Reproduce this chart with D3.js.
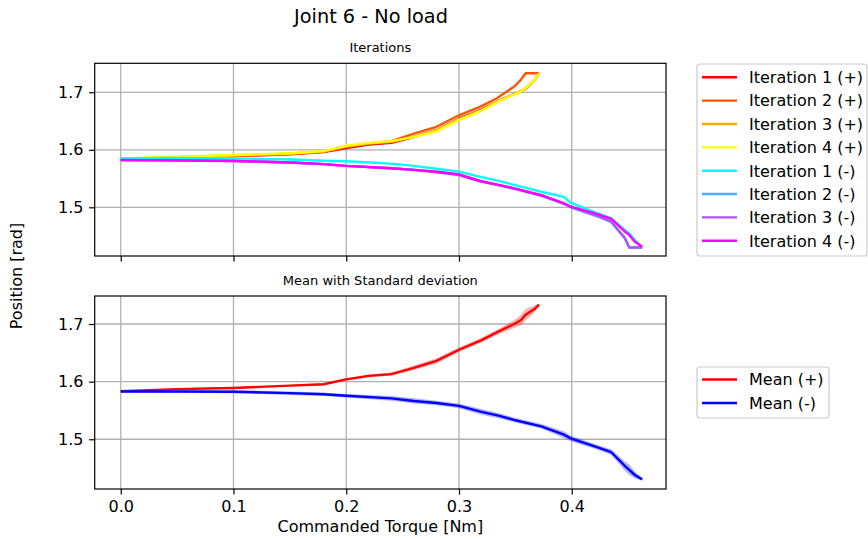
<!DOCTYPE html>
<html>
<head>
<meta charset="utf-8">
<script src="https://cdn.jsdelivr.net/npm/d3@7"></script>
<style>
  body { margin: 0; background: #fff; }
  svg { display: block; font-family: "DejaVu Sans", sans-serif; }
</style>
</head>
<body>
<script>
// torque samples (x) for the (+) and (-) directions
const torquePos = [0, 0.05, 0.1, 0.15, 0.18, 0.2, 0.22, 0.24, 0.26, 0.28, 0.3, 0.32, 0.334, 0.349, 0.355, 0.359, 0.367, 0.371];
const torqueNeg = [0, 0.05, 0.1, 0.15, 0.18, 0.2, 0.24, 0.26, 0.28, 0.3, 0.319, 0.335, 0.349, 0.373, 0.393, 0.399, 0.423, 0.435, 0.447, 0.451, 0.456, 0.4625];

// position per iteration
const iter1Pos = [1.583, 1.586, 1.589, 1.592, 1.596, 1.603, 1.609, 1.612, 1.622, 1.634, 1.654, 1.670, 1.684, 1.697, 1.701, 1.706, 1.721, 1.733];
const iter2Pos = [1.583, 1.587, 1.590, 1.593, 1.597, 1.605, 1.611, 1.615, 1.628, 1.640, 1.660, 1.676, 1.690, 1.710, 1.722, 1.733, 1.733, 1.733];
const iter3Pos = [1.584, 1.587, 1.590, 1.593, 1.597, 1.606, 1.611, 1.614, 1.623, 1.634, 1.653, 1.669, 1.684, 1.697, 1.702, 1.707, 1.721, 1.733];
const iter4Pos = [1.585, 1.588, 1.591, 1.594, 1.598, 1.607, 1.612, 1.615, 1.622, 1.632, 1.652, 1.668, 1.683, 1.6965, 1.701, 1.707, 1.721, 1.733];

const iter1Neg = [1.585, 1.586, 1.585, 1.583, 1.581, 1.580, 1.576, 1.572, 1.567, 1.562, 1.553, 1.546, 1.539, 1.527, 1.518, 1.508, 1.4895, 1.481, 1.4605, 1.455, 1.443, 1.430];
const iter2Neg = [1.582, 1.582, 1.581, 1.578, 1.575, 1.572, 1.568, 1.565, 1.562, 1.557, 1.545, 1.538, 1.532, 1.520, 1.506, 1.500, 1.484, 1.4745, 1.446, 1.430, 1.430, 1.430];
const iter3Neg = [1.582, 1.582, 1.5805, 1.578, 1.575, 1.572, 1.568, 1.565, 1.561, 1.556, 1.545, 1.539, 1.533, 1.521, 1.507, 1.501, 1.485, 1.475, 1.447, 1.430, 1.430, 1.430];
const iter4Neg = [1.5823, 1.5815, 1.5805, 1.578, 1.575, 1.572, 1.568, 1.565, 1.562, 1.557, 1.5457, 1.539, 1.533, 1.521, 1.507, 1.501, 1.488, 1.480, 1.458, 1.452, 1.440, 1.4315];

// mean and standard deviation
const meanPos = [1.5835, 1.587, 1.589, 1.593, 1.5955, 1.604, 1.610, 1.613, 1.624, 1.636, 1.6553, 1.672, 1.686, 1.700, 1.707, 1.716, 1.726, 1.7336];
const stdPos = [0.001, 0.0015, 0.0015, 0.0015, 0.0015, 0.002, 0.0025, 0.003, 0.004, 0.0045, 0.004, 0.004, 0.0045, 0.007, 0.009, 0.01, 0.006, 0.0015];
const meanNeg = [1.5828, 1.5828, 1.5825, 1.580, 1.578, 1.5755, 1.571, 1.5665, 1.563, 1.558, 1.548, 1.541, 1.5335, 1.5225, 1.508, 1.5017, 1.486, 1.4775, 1.454, 1.447, 1.438, 1.4304];
const stdNeg = [0.0015, 0.002, 0.0025, 0.003, 0.003, 0.003, 0.004, 0.0045, 0.004, 0.004, 0.005, 0.0045, 0.004, 0.004, 0.006, 0.005, 0.004, 0.005, 0.008, 0.009, 0.006, 0.002];

const xTicks = [0.0, 0.1, 0.2, 0.3, 0.4];
const yTicks = [1.5, 1.6, 1.7];

const iterSeries = [
  { name: 'Iteration 1 (+)', x: torquePos, y: iter1Pos, color: '#ff0000' },
  { name: 'Iteration 2 (+)', x: torquePos, y: iter2Pos, color: '#ff5500' },
  { name: 'Iteration 3 (+)', x: torquePos, y: iter3Pos, color: '#ffaa00' },
  { name: 'Iteration 4 (+)', x: torquePos, y: iter4Pos, color: '#ffff00' },
  { name: 'Iteration 1 (-)', x: torqueNeg, y: iter1Neg, color: '#00ffff' },
  { name: 'Iteration 2 (-)', x: torqueNeg, y: iter2Neg, color: '#55aaff' },
  { name: 'Iteration 3 (-)', x: torqueNeg, y: iter3Neg, color: '#aa55ff' },
  { name: 'Iteration 4 (-)', x: torqueNeg, y: iter4Neg, color: '#ff00ff' }
];
const meanSeries = [
  { name: 'Mean (+)', x: torquePos, y: meanPos, s: stdPos, color: '#ff0000' },
  { name: 'Mean (-)', x: torqueNeg, y: meanNeg, s: stdNeg, color: '#0000ff' }
];

const W = 868, H = 539;
const left = 94.7, right = 666;
const svg = d3.select('body').append('svg').attr('width', W).attr('height', H);

const xScale = d3.scaleLinear().domain([-0.0231, 0.4836]).range([left, right]);

function makeAxes(top, bottom, yDomain, title, showXLabels) {
  const yScale = d3.scaleLinear().domain(yDomain).range([bottom, top]);
  const g = svg.append('g');

  // grid
  g.selectAll('.gx').data(xTicks).join('line')
    .attr('x1', d => xScale(d)).attr('x2', d => xScale(d))
    .attr('y1', top).attr('y2', bottom)
    .attr('stroke', '#b0b0b0').attr('stroke-width', 1.3);
  g.selectAll('.gy').data(yTicks).join('line')
    .attr('y1', d => yScale(d)).attr('y2', d => yScale(d))
    .attr('x1', left).attr('x2', right)
    .attr('stroke', '#b0b0b0').attr('stroke-width', 1.3);

  // axes
  const xa = g.append('g').attr('transform', `translate(0,${bottom})`)
    .call(d3.axisBottom(xScale).tickValues(xTicks).tickSize(5.6).tickPadding(5.6)
      .tickFormat(showXLabels ? d3.format('.1f') : () => ''));
  const ya = g.append('g').attr('transform', `translate(${left},0)`)
    .call(d3.axisLeft(yScale).tickValues(yTicks).tickSize(5.6).tickPadding(5.6).tickFormat(d3.format('.1f')));
  [xa, ya].forEach(a => {
    a.select('.domain').remove();
    a.selectAll('line').attr('stroke', '#000').attr('stroke-width', 1.2);
    a.selectAll('text').attr('fill', '#000').style('font-size', '16px')
      .style('font-family', '"DejaVu Sans", sans-serif');
  });

  g.append('text')
    .attr('x', (left + right) / 2).attr('y', top - 11)
    .attr('text-anchor', 'middle').style('font-size', '13px')
    .text(title);

  return { g, yScale, top, bottom };
}

function frame(ax) {
  ax.g.append('rect')
    .attr('x', left).attr('y', ax.top)
    .attr('width', right - left).attr('height', ax.bottom - ax.top)
    .attr('fill', 'none').attr('stroke', '#000').attr('stroke-width', 1.2);
}

// top: iterations
const ax1 = makeAxes(63.3, 256, [1.4153, 1.7504], 'Iterations', false);
const line1 = d3.line().x(d => xScale(d[0])).y(d => ax1.yScale(d[1]));
ax1.g.append('g')
  .selectAll('path').data(iterSeries).join('path')
  .attr('d', s => line1(s.x.map((v, i) => [v, s.y[i]])))
  .attr('fill', 'none').attr('stroke', s => s.color).attr('stroke-width', 2.4)
  .attr('stroke-linejoin', 'round');
frame(ax1);

// bottom: mean with std
const ax2 = makeAxes(296, 489, [1.4137, 1.7486], 'Mean with Standard deviation', true);
const line2 = d3.line().x(d => xScale(d[0])).y(d => ax2.yScale(d[1]));
const area2 = d3.area().x(d => xScale(d[0])).y0(d => ax2.yScale(d[1] - d[2])).y1(d => ax2.yScale(d[1] + d[2]));
meanSeries.forEach(s => {
  const pts = s.x.map((v, i) => [v, s.y[i], s.s[i]]);
  ax2.g.append('path').attr('d', area2(pts)).attr('fill', s.color).attr('fill-opacity', 0.3);
  ax2.g.append('path').attr('d', line2(pts)).attr('fill', 'none')
    .attr('stroke', s.color).attr('stroke-width', 2.4).attr('stroke-linejoin', 'round');
});
frame(ax2);

// legends
function legend(items, x, y, w, h, firstY, step) {
  const g = svg.append('g');
  g.append('rect').attr('x', x).attr('y', y).attr('width', w).attr('height', h)
    .attr('rx', 3).attr('fill', '#fff').attr('fill-opacity', 0.8)
    .attr('stroke', '#cccccc').attr('stroke-width', 1.2);
  items.forEach((d, i) => {
    const yy = firstY + i * step;
    g.append('line').attr('x1', x + 5).attr('x2', x + 40).attr('y1', yy).attr('y2', yy)
      .attr('stroke', d.color).attr('stroke-width', 2.4);
    g.append('text').attr('x', x + 52).attr('y', yy + 5.8)
      .style('font-size', '16px').text(d.name);
  });
}
legend(iterSeries, 697, 64, 170, 192, 77.3, 23.35);
legend(meanSeries, 697, 367, 132, 51, 379.5, 23.5);

// figure texts
svg.append('text').attr('x', 371).attr('y', 23).attr('text-anchor', 'middle')
  .style('font-size', '19.3px').text('Joint 6 - No load');
svg.append('text').attr('x', (left + right) / 2).attr('y', 532).attr('text-anchor', 'middle')
  .style('font-size', '16px').text('Commanded Torque [Nm]');
svg.append('text').attr('transform', 'translate(22,276) rotate(-90)').attr('text-anchor', 'middle')
  .style('font-size', '16px').text('Position [rad]');
</script>
</body>
</html>
